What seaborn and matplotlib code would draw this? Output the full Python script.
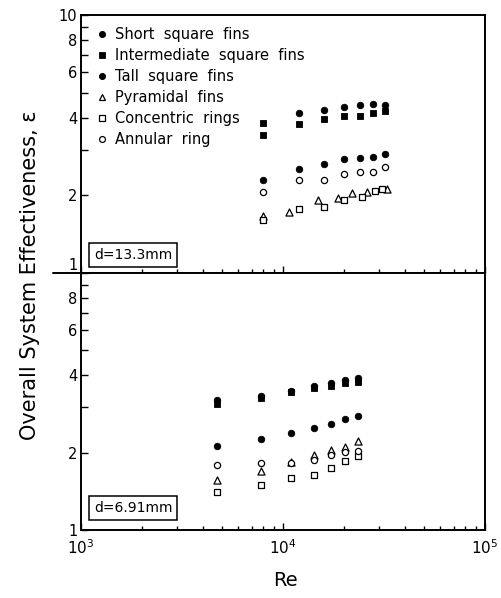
import numpy as np
import pandas as pd
import matplotlib
matplotlib.use("Agg")
import matplotlib.pyplot as plt
import seaborn as sns
from matplotlib.lines import Line2D
from matplotlib.ticker import FixedLocator, FixedFormatter, NullFormatter

sns.set_theme(style="white")
plt.rcParams['font.family'] = ['DejaVu Sans']
plt.rcParams['mathtext.default'] = 'regular'
plt.rcParams['text.color'] = 'black'
plt.rcParams['axes.labelcolor'] = 'black'
plt.rcParams['xtick.color'] = 'black'
plt.rcParams['ytick.color'] = 'black'

# ---------------- data ----------------
series_names = ["Short  square  fins", "Intermediate  square  fins", "Tall  square  fins",
                "Pyramidal  fins", "Concentric  rings", "Annular  ring"]

# top panel, d = 13.3 mm
top_short_re = [8000, 12000, 16000, 20000, 24000, 28000, 32000]
top_short_eps = [2.29, 2.53, 2.65, 2.77, 2.79, 2.82, 2.89]
top_inter_re = [8000, 8000, 12000, 16000, 20000, 24000, 28000, 32000]
top_inter_eps = [3.81, 3.43, 3.77, 3.95, 4.06, 4.06, 4.18, 4.26]
top_tall_re = [12000, 16000, 20000, 24000, 28000, 32000]
top_tall_eps = [4.16, 4.28, 4.40, 4.48, 4.52, 4.47]
top_pyr_re = [8000, 10700, 14900, 18800, 22000, 26000, 32700]
top_pyr_eps = [1.66, 1.73, 1.92, 1.95, 2.04, 2.06, 2.12]
top_conc_re = [8000, 12000, 16000, 20000, 24500, 28500, 31000]
top_conc_eps = [1.60, 1.77, 1.81, 1.92, 1.97, 2.08, 2.12]
top_ann_re = [8000, 12000, 16000, 20000, 24000, 28000, 32000]
top_ann_eps = [2.06, 2.29, 2.29, 2.42, 2.46, 2.46, 2.58]

# bottom panel, d = 6.91 mm
bot_re = [4700, 7800, 10900, 14300, 17200, 20300, 23400]
bot_short_eps = [2.12, 2.27, 2.38, 2.49, 2.59, 2.70, 2.78]
bot_inter_eps = [3.10, 3.26, 3.43, 3.57, 3.63, 3.73, 3.77]
bot_tall_eps = [3.21, 3.32, 3.47, 3.63, 3.73, 3.84, 3.90]
bot_pyr_eps = [1.56, 1.70, 1.84, 1.96, 2.05, 2.10, 2.22]
bot_conc_eps = [1.41, 1.50, 1.60, 1.64, 1.74, 1.86, 1.94]
bot_ann_eps = [1.79, 1.82, 1.82, 1.87, 1.96, 2.02, 2.03]

panel_labels = ["d=13.3mm", "d=6.91mm"]
y_tick_vals = [1, 2, 3, 4, 5, 6, 7, 8, 9, 10]
y_tick_top = ["1", "2", "", "4", "", "6", "", "8", "", "10"]
y_tick_bot = ["1", "2", "", "4", "", "6", "", "8", "", ""]
x_tick_vals = [1e3, 1e4, 1e5]
x_tick_labels = ["$10^{3}$", "$10^{4}$", "$10^{5}$"]

# ---------------- styles ----------------
styles = [
    dict(marker='o', s=22, facecolor='black', linewidth=0.6),
    dict(marker='s', s=17, facecolor='black', linewidth=0.6),
    dict(marker='o', s=22, facecolor='black', linewidth=0.6),
    dict(marker='^', s=26, facecolor='white', linewidth=0.9),
    dict(marker='s', s=15, facecolor='white', linewidth=0.9),
    dict(marker='o', s=20, facecolor='white', linewidth=0.9),
]

top_data = [(top_short_re, top_short_eps), (top_inter_re, top_inter_eps),
            (top_tall_re, top_tall_eps), (top_pyr_re, top_pyr_eps),
            (top_conc_re, top_conc_eps), (top_ann_re, top_ann_eps)]
bot_data = [(bot_re, bot_short_eps), (bot_re, bot_inter_eps), (bot_re, bot_tall_eps),
            (bot_re, bot_pyr_eps), (bot_re, bot_conc_eps), (bot_re, bot_ann_eps)]

W, H = 502, 598
fig = plt.figure(figsize=(W / 100, H / 100), dpi=100)
fig.patch.set_facecolor('white')

left, right = 81, 485
top_t, div, bot_b = 15, 273, 530
ax_top = fig.add_axes([left / W, 1 - div / H, (right - left) / W, (div - top_t) / H])
ax_bot = fig.add_axes([left / W, 1 - bot_b / H, (right - left) / W, (bot_b - div) / H])

for ax, data in ((ax_top, top_data), (ax_bot, bot_data)):
    for (xs, ys), st in zip(data, styles):
        df = pd.DataFrame({"Re": xs, "eps": ys})
        sns.scatterplot(data=df, x="Re", y="eps", ax=ax, marker=st['marker'], s=st['s'],
                        facecolor=st['facecolor'], edgecolor='black',
                        linewidth=st['linewidth'], zorder=3, legend=False)
    ax.set_xscale('log')
    ax.set_yscale('log')
    ax.set_xlim(1e3, 1e5)
    ax.set_ylim(1, 10)
    ax.set_xlabel("")
    ax.set_ylabel("")
    ax.set_facecolor('white')
    for sp in ax.spines.values():
        sp.set_visible(True)
        sp.set_color('black')
        sp.set_linewidth(1.4)
    ax.yaxis.set_major_locator(FixedLocator(y_tick_vals))
    ax.yaxis.set_minor_locator(FixedLocator([]))
    ax.xaxis.set_major_locator(FixedLocator(x_tick_vals))
    ax.xaxis.set_minor_locator(FixedLocator([m * 10 ** e for e in (3, 4) for m in range(2, 10)]))
    ax.xaxis.set_minor_formatter(NullFormatter())
    ax.tick_params(which='both', direction='in', left=True, bottom=True, top=False, right=False,
                   color='black', width=1.0, labelcolor='black')
    ax.tick_params(which='major', length=5)
    ax.tick_params(which='minor', length=3)
    ax.tick_params(axis='y', labelsize=10.5, pad=2.5)
    ax.tick_params(axis='x', labelsize=11, pad=6)

ax_top.yaxis.set_major_formatter(FixedFormatter(y_tick_top))
ax_bot.yaxis.set_major_formatter(FixedFormatter(y_tick_bot))
ax_top.xaxis.set_major_formatter(NullFormatter())
ax_bot.xaxis.set_major_formatter(FixedFormatter(x_tick_labels))
# the "1" of the upper panel sits just above the shared boundary
ax_top.get_yticklabels()[0].set_verticalalignment('bottom')

# panel label boxes
for ax, lab, yy in ((ax_top, panel_labels[0], 0.07), (ax_bot, panel_labels[1], 0.086)):
    ax.text(0.032, yy, lab, transform=ax.transAxes, ha='left', va='center', fontsize=10,
            color='black',
            bbox=dict(boxstyle='square,pad=0.35', fc='white', ec='black', lw=1.1), zorder=5)

# legend
handles = []
for st, name in zip(styles, series_names):
    handles.append(Line2D([], [], ls='', marker=st['marker'], markersize=np.sqrt(st['s']) * 0.95,
                          markerfacecolor=st['facecolor'], markeredgecolor='black',
                          markeredgewidth=st['linewidth'], label=name))
leg = ax_top.legend(handles=handles, loc='upper left', bbox_to_anchor=(0.037, 0.955),
                    frameon=False, fontsize=10.5, handlelength=0.8, handletextpad=0.5,
                    labelspacing=0.42, borderaxespad=0, borderpad=0, labelcolor='black')

# divider extension to the left
fig.add_artist(Line2D([53 / W, left / W], [1 - div / H, 1 - div / H], color='black', lw=1.4,
                      transform=fig.transFigure))

fig.text(30 / W, 1 - 275 / H, "Overall System Effectiveness, ε", rotation=90,
         ha='center', va='center', fontsize=15, color='black')
fig.text(285 / W, 1 - 580 / H, "Re", ha='center', va='center', fontsize=14, color='black')

fig.savefig("out.png", dpi=100, facecolor='white')
